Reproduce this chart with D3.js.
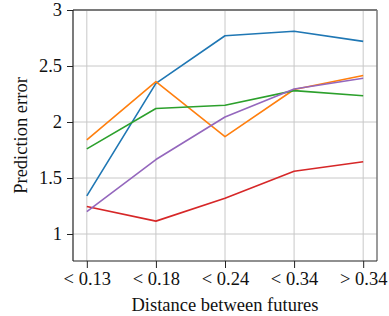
<!DOCTYPE html>
<html><head><meta charset="utf-8">
<script src="https://cdn.jsdelivr.net/npm/d3@7"></script>
<style>html,body{margin:0;padding:0;background:#fff;}svg{display:block;}</style>
</head><body>
<script>
const categories = ["< 0.13", "< 0.18", "< 0.24", "< 0.34", "> 0.34"];
const yTicks = [1, 1.5, 2, 2.5, 3];
const seriesBlue   = [1.34, 2.345, 2.77, 2.81, 2.72];
const seriesOrange = [1.84, 2.36, 1.87, 2.29, 2.415];
const seriesGreen  = [1.76, 2.12, 2.15, 2.28, 2.235];
const seriesRed    = [1.245, 1.115, 1.32, 1.56, 1.645];
const seriesPurple = [1.20, 1.665, 2.045, 2.295, 2.39];
const series = [
  {values: seriesBlue, color: "#1f77b4"},
  {values: seriesOrange, color: "#ff7f0e"},
  {values: seriesGreen, color: "#2ca02c"},
  {values: seriesRed, color: "#d62728"},
  {values: seriesPurple, color: "#9467bd"}
];
const W = 389, H = 316;
const L = 73, R = 377, T = 10, B = 261;
const font = "'Liberation Serif', 'Times New Roman', serif";
const fs = 18.5;

const svg = d3.select("body").append("svg").attr("width", W).attr("height", H);
const x = d3.scalePoint().domain(categories).range([L, R]).padding(0.2);
const y = d3.scaleLinear().domain([3 - (B - T) / 112, 3]).range([B, T]);

// grid
svg.append("g").selectAll("line").data(categories).join("line")
  .attr("x1", d => x(d)).attr("x2", d => x(d)).attr("y1", T).attr("y2", B)
  .attr("stroke", "#c8c8c8").attr("stroke-width", 1);
svg.append("g").selectAll("line").data(yTicks).join("line")
  .attr("x1", L).attr("x2", R).attr("y1", d => y(d)).attr("y2", d => y(d))
  .attr("stroke", "#c8c8c8").attr("stroke-width", 1);

// lines
const line = d3.line().x((d, i) => x(categories[i])).y(d => y(d));
series.forEach(s => {
  svg.append("path").datum(s.values).attr("d", line)
    .attr("fill", "none").attr("stroke", s.color).attr("stroke-width", 1.6)
    .attr("stroke-linejoin", "round");
});

// frame top/right
svg.append("line").attr("x1", L).attr("x2", R).attr("y1", T).attr("y2", T)
  .attr("stroke", "#7a7a7a").attr("stroke-width", 2);
svg.append("line").attr("x1", R).attr("x2", R).attr("y1", T).attr("y2", B)
  .attr("stroke", "#7a7a7a").attr("stroke-width", 1.5);

// axes
const xAxis = d3.axisBottom(x).tickSize(7).tickPadding(4);
const gx = svg.append("g").attr("transform", `translate(0,${B})`).call(xAxis);
const yAxis = d3.axisLeft(y).tickValues(yTicks).tickFormat(d3.format("~g")).tickSize(6).tickPadding(5);
const gy = svg.append("g").attr("transform", `translate(${L},0)`).call(yAxis);
[gx, gy].forEach(g => {
  g.select(".domain").attr("stroke", "#222").attr("stroke-width", 1.2);
  g.selectAll(".tick line").attr("stroke", "#222").attr("stroke-width", 1);
  g.selectAll("text").attr("font-family", font).attr("font-size", fs).attr("fill", "#111");
});
gx.select(".domain").attr("d", `M${L},0H${R}`);
gy.select(".domain").attr("d", `M0,${B}V${T}`);

// axis labels
svg.append("text").attr("x", (L + R) / 2).attr("y", 311).attr("text-anchor", "middle")
  .attr("font-family", font).attr("font-size", fs).attr("fill", "#111")
  .text("Distance between futures");
svg.append("text").attr("transform", `translate(27,${(T + B) / 2}) rotate(-90)`)
  .attr("text-anchor", "middle")
  .attr("font-family", font).attr("font-size", fs).attr("fill", "#111")
  .text("Prediction error");
</script>
</body></html>
